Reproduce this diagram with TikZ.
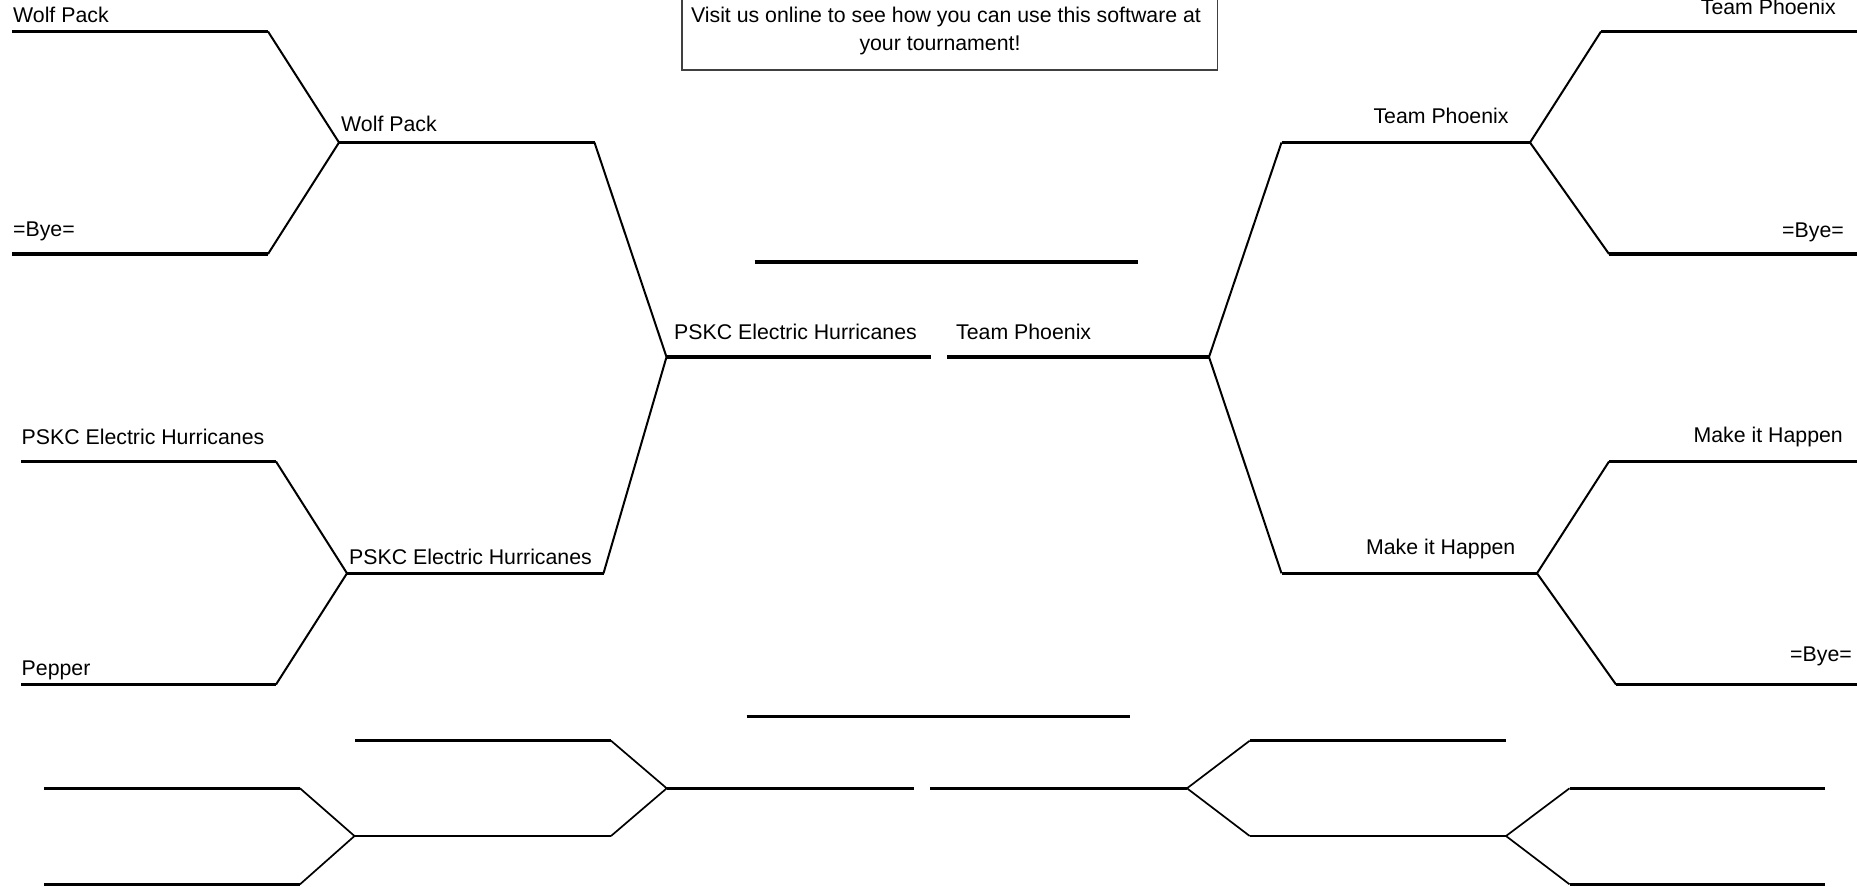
\documentclass[tikz,border=0pt]{standalone}
\usepackage{fontspec}
\setmainfont{Liberation Sans}
\begin{document}
\begin{tikzpicture}[x=1pt,y=-1pt,
  hline/.style={line width=3.1pt},
  dline/.style={line width=2pt},
  bhline/.style={line width=2.8pt},
  bdline/.style={line width=1.7pt},
  lab/.style={inner sep=0pt,font=\fontsize{21.3}{25}\selectfont},
  msgbox/.style={draw=black!75,line width=1.2pt}]
\useasboundingbox (0,0) rectangle (1857,886);

% ---------- upper-left bracket ----------
\coordinate (a1L) at (12,31.5);   \coordinate (a1R) at (268,31.5);
\coordinate (a2L) at (12,254);    \coordinate (a2R) at (268,254);
\coordinate (j1)  at (339,142.5); \coordinate (b1R) at (594.5,142.5);
\coordinate (c1L) at (21,461.5);  \coordinate (c1R) at (276,461.5);
\coordinate (c2L) at (21,684.5);  \coordinate (c2R) at (276,684.5);
\coordinate (j2)  at (347,573.3); \coordinate (b2R) at (603.5,573.3);
\coordinate (jf)  at (666.5,357); \coordinate (fL)  at (931,357);

\draw[hline] (a1L) -- (a1R);
\draw[hline] (a2L) -- (a2R);
\draw[dline] (a1R) -- (j1) -- (a2R);
\draw[hline] (j1) -- (b1R);
\draw[hline] (c1L) -- (c1R);
\draw[hline] (c2L) -- (c2R);
\draw[dline] (c1R) -- (j2) -- (c2R);
\draw[hline] (j2) -- (b2R);
\draw[dline] (b1R) -- (jf) -- (b2R);
\draw[hline] (jf) -- (fL);

% ---------- upper-right bracket ----------
\coordinate (fR)  at (947,357);   \coordinate (jfR) at (1209,357);
\coordinate (b3L) at (1281.5,142.5); \coordinate (j3) at (1530,142.5);
\coordinate (d1L) at (1601,31.5); \coordinate (d1R) at (1862,31.5);
\coordinate (d2L) at (1609,254);  \coordinate (d2R) at (1862,254);
\coordinate (b4L) at (1281.5,573.3); \coordinate (j4) at (1537,573.3);
\coordinate (e1L) at (1609,461.5); \coordinate (e1R) at (1862,461.5);
\coordinate (e2L) at (1616,684.5); \coordinate (e2R) at (1862,684.5);

\draw[hline] (fR) -- (jfR);
\draw[dline] (b3L) -- (jfR) -- (b4L);
\draw[hline] (b3L) -- (j3);
\draw[hline] (b4L) -- (j4);
\draw[dline] (d1L) -- (j3) -- (d2L);
\draw[dline] (e1L) -- (j4) -- (e2L);
\draw[hline] (d1L) -- (d1R);
\draw[hline] (d2L) -- (d2R);
\draw[hline] (e1L) -- (e1R);
\draw[hline] (e2L) -- (e2R);

% ---------- centre lines ----------
\coordinate (m1L) at (754.5,262);  \coordinate (m1R) at (1138,262);
\coordinate (m2L) at (746.5,716.5); \coordinate (m2R) at (1130,716.5);
\draw[hline] (m1L) -- (m1R);
\draw[bhline] (m2L) -- (m2R);

% ---------- bottom-left bracket ----------
\coordinate (g1L) at (44,788.3);  \coordinate (g1R) at (300,788.3);
\coordinate (g2L) at (44,884.3);  \coordinate (g2R) at (300,884.3);
\coordinate (jg)  at (354.5,836); \coordinate (jgR) at (611,836);
\coordinate (h1L) at (355,740.7); \coordinate (h1R) at (611,740.7);
\coordinate (jh)  at (666.7,788.3); \coordinate (jhR) at (914,788.3);
\draw[bhline] (g1L) -- (g1R);
\draw[bhline] (g2L) -- (g2R);
\draw[bdline] (g1R) -- (jg) -- (g2R);
\draw[bhline] (jg) -- (jgR);
\draw[bhline] (h1L) -- (h1R);
\draw[bdline] (h1R) -- (jh) -- (jgR);
\draw[bhline] (jh) -- (jhR);

% ---------- bottom-right bracket ----------
\coordinate (kL)  at (930,788.3);  \coordinate (jk) at (1187,788.3);
\coordinate (k1L) at (1249.7,740.7); \coordinate (k1R) at (1505.5,740.7);
\coordinate (k2L) at (1249.7,836);  \coordinate (jk2) at (1506,836);
\coordinate (n1L) at (1569.5,788.3); \coordinate (n1R) at (1824.6,788.3);
\coordinate (n2L) at (1569.5,884.3); \coordinate (n2R) at (1824.6,884.3);
\draw[bhline] (kL) -- (jk);
\draw[bdline] (k1L) -- (jk) -- (k2L);
\draw[bhline] (k1L) -- (k1R);
\draw[bhline] (k2L) -- (jk2);
\draw[bdline] (n1L) -- (jk2) -- (n2L);
\draw[bhline] (n1L) -- (n1R);
\draw[bhline] (n2L) -- (n2R);

% ---------- message box ----------
\draw[msgbox] (682,-5) rectangle (1217.5,70);
\node[lab,anchor=base] (msg1) at (946,23) {Visit us online to see how you can use this software at};
\node[lab,anchor=base] (msg2) at (940,50) {your tournament!};

% ---------- labels ----------
\node[lab,anchor=base west] (t1) at (13,22) {Wolf Pack};
\node[lab,anchor=base west] (t2) at (13,236) {=Bye=};
\node[lab,anchor=base west] (t3) at (341,131) {Wolf Pack};
\node[lab,anchor=base west] (t4) at (21.5,444.5) {PSKC Electric Hurricanes};
\node[lab,anchor=base west] (t5) at (21.5,675) {Pepper};
\node[lab,anchor=base west] (t6) at (349,564.5) {PSKC Electric Hurricanes};
\node[lab,anchor=base west] (t7) at (674,339.5) {PSKC Electric Hurricanes};
\node[lab,anchor=base west] (t8) at (956,339) {Team Phoenix};

\node[lab,anchor=base east] (u1) at (1836,14) {Team Phoenix};
\node[lab,anchor=base east] (u2) at (1844,237) {=Bye=};
\node[lab,anchor=base east] (u3) at (1508.7,123.5) {Team Phoenix};
\node[lab,anchor=base east] (u4) at (1843,442) {Make it Happen};
\node[lab,anchor=base east] (u5) at (1515.5,554.5) {Make it Happen};
\node[lab,anchor=base east] (u6) at (1852,661) {=Bye=};
\end{tikzpicture}
\end{document}
